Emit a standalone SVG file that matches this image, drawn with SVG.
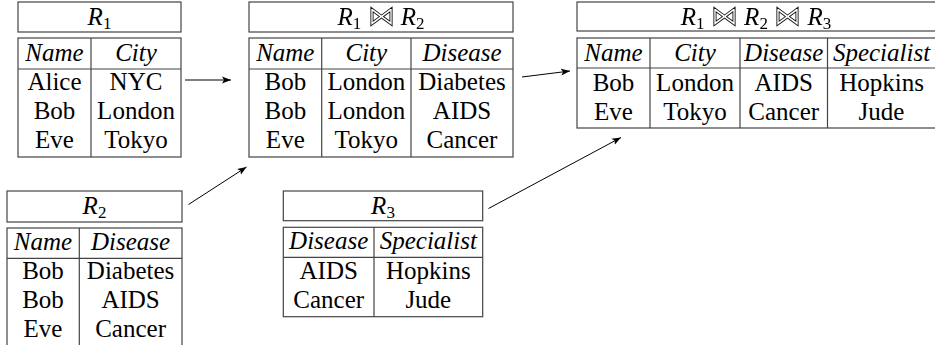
<svg xmlns="http://www.w3.org/2000/svg" width="935" height="345" viewBox="0 0 935 345">
<style>
  .box { fill: #fff; stroke: #444; stroke-width: 1.2; }
  .ln { stroke: #444; stroke-width: 1.2; fill: none; }
  text { font-family: "Liberation Serif", "DejaVu Serif", serif; font-size: 25px; fill: #000; text-anchor: middle; }
  .h { font-style: italic; }
  .i { font-style: italic; }
  .sub { font-size: 17px; }
  .bt { font-family: "DejaVu Serif", serif; font-size: 27px; fill: none; stroke: #111; stroke-width: 0.9; }
  .t { filter: url(#gray); }
  .con { stroke: #000; stroke-width: 1; fill: none; marker-end: url(#ah); }
</style>
<defs>
  <filter id="gray" x="-10%" y="-30%" width="120%" height="160%">
    <feColorMatrix type="saturate" values="0"/>
  </filter>
  <marker id="ah" markerUnits="userSpaceOnUse" markerWidth="10" markerHeight="8" refX="9" refY="4" orient="auto">
    <path d="M0,0.5 L9,4 L0,7.5 L2,4 Z" fill="#000"/>
  </marker>
</defs>

<g id="R1">
  <rect class="box" x="18" y="2" width="163" height="30"/>
  <text x="99.5" y="25"><tspan class="i">R</tspan><tspan class="sub" dy="4">1</tspan></text>
  <rect class="box" x="18" y="38" width="163" height="119"/>
  <line class="ln" x1="18" y1="69" x2="181" y2="69"/>
  <line class="ln" x1="91" y1="38" x2="91" y2="157"/>
  <text class="h" x="54.5" y="61">Name</text><text class="h" x="136" y="61">City</text>
  <text x="54.5" y="90">Alice</text><text x="136" y="90">NYC</text>
  <text x="54.5" y="119">Bob</text><text x="136" y="119">London</text>
  <text x="54.5" y="148">Eve</text><text x="136" y="148">Tokyo</text>
</g>

<g id="R1R2">
  <rect class="box" x="249" y="2" width="264" height="30"/>
  <text class="t" x="381" y="25"><tspan class="i">R</tspan><tspan class="sub" dy="4">1</tspan><tspan dy="-4"> </tspan><tspan class="bt">⋈</tspan><tspan> </tspan><tspan class="i">R</tspan><tspan class="sub" dy="4">2</tspan></text>
  <rect class="box" x="249" y="38" width="264" height="119"/>
  <line class="ln" x1="249" y1="69" x2="513" y2="69"/>
  <line class="ln" x1="321.7" y1="38" x2="321.7" y2="157"/>
  <line class="ln" x1="411" y1="38" x2="411" y2="157"/>
  <text class="h" x="285.3" y="61">Name</text><text class="h" x="366.3" y="61">City</text><text class="h" x="462" y="61">Disease</text>
  <text x="285.3" y="90">Bob</text><text x="366.3" y="90">London</text><text x="462" y="90">Diabetes</text>
  <text x="285.3" y="119">Bob</text><text x="366.3" y="119">London</text><text x="462" y="119">AIDS</text>
  <text x="285.3" y="148">Eve</text><text x="366.3" y="148">Tokyo</text><text x="462" y="148">Cancer</text>
</g>

<g id="R1R2R3">
  <rect class="box" x="577" y="2" width="360" height="29"/>
  <text class="t" x="756" y="25"><tspan class="i">R</tspan><tspan class="sub" dy="4">1</tspan><tspan dy="-4"> </tspan><tspan class="bt">⋈</tspan><tspan> </tspan><tspan class="i">R</tspan><tspan class="sub" dy="4">2</tspan><tspan dy="-4"> </tspan><tspan class="bt">⋈</tspan><tspan> </tspan><tspan class="i">R</tspan><tspan class="sub" dy="4">3</tspan></text>
  <rect class="box" x="577" y="38" width="360" height="90"/>
  <line class="ln" x1="577" y1="68" x2="937" y2="68"/>
  <line class="ln" x1="650" y1="38" x2="650" y2="128"/>
  <line class="ln" x1="740" y1="38" x2="740" y2="128"/>
  <line class="ln" x1="827.5" y1="38" x2="827.5" y2="128"/>
  <text class="h" x="613.5" y="61">Name</text><text class="h" x="695" y="61">City</text><text class="h" x="783.7" y="61">Disease</text><text class="h" x="881.5" y="61">Specialist</text>
  <text x="613.5" y="91">Bob</text><text x="695" y="91">London</text><text x="783.7" y="91">AIDS</text><text x="881.5" y="91">Hopkins</text>
  <text x="613.5" y="120">Eve</text><text x="695" y="120">Tokyo</text><text x="783.7" y="120">Cancer</text><text x="881.5" y="120">Jude</text>
</g>

<g id="R2">
  <rect class="box" x="7" y="191" width="175" height="31"/>
  <text x="94.5" y="214"><tspan class="i">R</tspan><tspan class="sub" dy="4">2</tspan></text>
  <rect class="box" x="7" y="228" width="175" height="120"/>
  <line class="ln" x1="7" y1="258.3" x2="182" y2="258.3"/>
  <line class="ln" x1="79.3" y1="228" x2="79.3" y2="348"/>
  <text class="h" x="43" y="250">Name</text><text class="h" x="130.6" y="250">Disease</text>
  <text x="43" y="279">Bob</text><text x="130.6" y="279">Diabetes</text>
  <text x="43" y="308">Bob</text><text x="130.6" y="308">AIDS</text>
  <text x="43" y="337">Eve</text><text x="130.6" y="337">Cancer</text>
</g>

<g id="R3">
  <rect class="box" x="283.3" y="191" width="199.4" height="29.7"/>
  <text x="383" y="214"><tspan class="i">R</tspan><tspan class="sub" dy="4">3</tspan></text>
  <rect class="box" x="283.3" y="227.3" width="199.4" height="89.4"/>
  <line class="ln" x1="283.3" y1="257.3" x2="482.7" y2="257.3"/>
  <line class="ln" x1="374" y1="227.3" x2="374" y2="316.7"/>
  <text class="h" x="328.7" y="249">Disease</text><text class="h" x="428.3" y="249">Specialist</text>
  <text x="328.7" y="279">AIDS</text><text x="428.3" y="279">Hopkins</text>
  <text x="328.7" y="308">Cancer</text><text x="428.3" y="308">Jude</text>
</g>

<g id="connectors">
  <line class="con" x1="185" y1="80" x2="231" y2="80"/>
  <line class="con" x1="188.5" y1="204.5" x2="246.5" y2="167"/>
  <line class="con" x1="522" y1="77" x2="570" y2="71"/>
  <line class="con" x1="488.5" y1="208.5" x2="621" y2="137.5"/>
</g>
</svg>
